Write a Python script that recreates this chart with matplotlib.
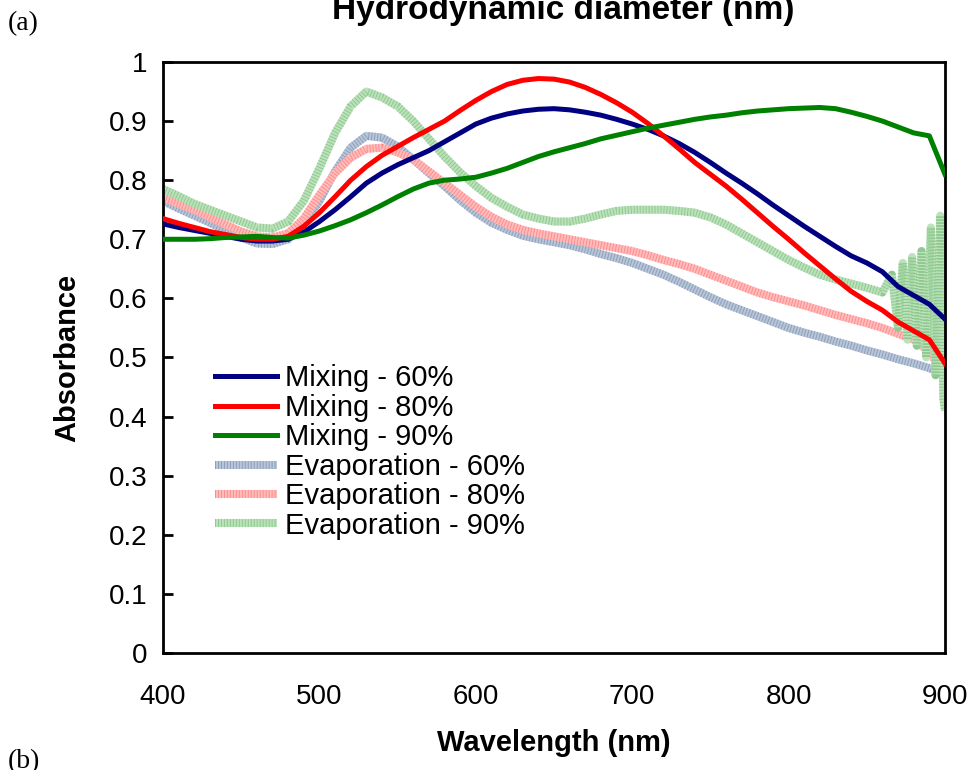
import matplotlib
matplotlib.use('Agg')
from matplotlib import pyplot as plt
from matplotlib.lines import Line2D
from matplotlib.legend_handler import HandlerTuple

plt.rcParams['font.family'] = 'Liberation Sans'

wl = list(range(400, 910, 10))

mix60 = [0.726, 0.720, 0.715, 0.710, 0.705, 0.700, 0.697, 0.697, 0.700, 0.712, 0.730, 0.750, 0.772,
         0.795, 0.812, 0.826, 0.838, 0.850, 0.865, 0.880, 0.895, 0.905, 0.912, 0.917, 0.920, 0.921,
         0.919, 0.915, 0.910, 0.903, 0.895, 0.886, 0.875, 0.862, 0.847, 0.830, 0.812, 0.795, 0.777,
         0.758, 0.740, 0.722, 0.705, 0.688, 0.672, 0.660, 0.645, 0.620, 0.605, 0.590, 0.565]
mix80 = [0.735, 0.727, 0.720, 0.713, 0.708, 0.703, 0.700, 0.700, 0.705, 0.722, 0.745, 0.772, 0.800,
         0.823, 0.842, 0.857, 0.872, 0.886, 0.900, 0.918, 0.935, 0.950, 0.962, 0.969, 0.972, 0.971,
         0.966, 0.957, 0.945, 0.931, 0.915, 0.896, 0.875, 0.853, 0.830, 0.810, 0.790, 0.768, 0.745,
         0.722, 0.700, 0.677, 0.655, 0.633, 0.612, 0.595, 0.580, 0.560, 0.545, 0.530, 0.490]
mix90 = [0.700, 0.700, 0.700, 0.701, 0.703, 0.704, 0.705, 0.703, 0.702, 0.707, 0.714, 0.723, 0.733,
         0.745, 0.758, 0.772, 0.785, 0.795, 0.800, 0.802, 0.805, 0.812, 0.820, 0.830, 0.840, 0.848,
         0.855, 0.862, 0.870, 0.876, 0.882, 0.888, 0.893, 0.898, 0.903, 0.907, 0.910, 0.914, 0.917,
         0.919, 0.921, 0.922, 0.923, 0.921, 0.915, 0.908, 0.900, 0.890, 0.880, 0.875, 0.810]

evap60 = [0.765, 0.752, 0.740, 0.728, 0.715, 0.703, 0.693, 0.692, 0.700, 0.725, 0.765, 0.815, 0.855,
          0.875, 0.872, 0.857, 0.835, 0.812, 0.790, 0.766, 0.745, 0.728, 0.716, 0.706, 0.700, 0.695,
          0.690, 0.683, 0.675, 0.668, 0.660, 0.650, 0.640, 0.628, 0.615, 0.602, 0.590, 0.580, 0.570,
          0.560, 0.550, 0.542, 0.535, 0.527, 0.520, 0.512, 0.505, 0.497, 0.490, 0.482, 0.470]
evap80 = [0.770, 0.760, 0.750, 0.737, 0.725, 0.713, 0.705, 0.703, 0.710, 0.735, 0.775, 0.812, 0.838,
          0.853, 0.855, 0.847, 0.835, 0.815, 0.795, 0.775, 0.755, 0.738, 0.725, 0.716, 0.710, 0.705,
          0.700, 0.695, 0.690, 0.685, 0.680, 0.673, 0.665, 0.658, 0.650, 0.640, 0.630, 0.620, 0.610,
          0.602, 0.595, 0.588, 0.580, 0.572, 0.565, 0.558, 0.550, 0.540, 0.530, 0.510, 0.470]
# evaporation 90% up to 860 nm, then its noisy tail
evap90 = [0.785, 0.773, 0.760, 0.750, 0.740, 0.730, 0.720, 0.718, 0.730, 0.765, 0.820, 0.880, 0.925,
          0.950, 0.940, 0.925, 0.900, 0.870, 0.840, 0.813, 0.790, 0.770, 0.755, 0.742, 0.735, 0.730,
          0.730, 0.735, 0.742, 0.748, 0.750, 0.750, 0.750, 0.748, 0.745, 0.737, 0.725, 0.710, 0.695,
          0.680, 0.665, 0.652, 0.640, 0.632, 0.625, 0.618, 0.610]
wl_tail = [866, 870, 873, 876, 879, 882, 885, 888, 891, 894, 897, 899, 900]
evap90_tail = [0.640, 0.550, 0.660, 0.530, 0.670, 0.520, 0.680, 0.500, 0.720, 0.470, 0.740, 0.430, 0.410]

fig = plt.figure(figsize=(9.74, 7.7), dpi=100)
ax = fig.add_axes([0.1674, 0.152, 0.8028, 0.7675])

ev_styles = [('#b9c6d9', '#8d9fba'), ('#ffbcbc', '#ff8c8c'), ('#bce2bc', '#8fc98f')]
ev_x = [wl, wl, wl[:len(evap90)] + wl_tail]
ev_y = [evap60, evap80, evap90 + evap90_tail]
ev_names = ['Evaporation - 60%', 'Evaporation - 80%', 'Evaporation - 90%']

ev_handles = []
for (light, dark), x, y in zip(ev_styles, ev_x, ev_y):
    ax.plot(x, y, color=light, lw=5.8, solid_capstyle='butt', zorder=2)
    ax.plot(x, y, color=dark, lw=5.8, dashes=(0.12, 0.25), zorder=2)
    ev_handles.append((Line2D([], [], color=light, lw=5.8, solid_capstyle='butt'),
                       Line2D([], [], color=dark, lw=5.8, dashes=(0.12, 0.25))))

m1, = ax.plot(wl, mix60, color='#000080', lw=3.6, zorder=3)
m2, = ax.plot(wl, mix80, color='#ff0000', lw=3.6, zorder=3)
m3, = ax.plot(wl, mix90, color='#008000', lw=3.6, zorder=3)

ax.set_xlim(400, 900)
ax.set_ylim(0, 1)
ax.set_xticks([400, 500, 600, 700, 800, 900])
ax.set_yticks([i / 10 for i in range(11)])
ax.set_yticklabels(['0', '0.1', '0.2', '0.3', '0.4', '0.5', '0.6', '0.7', '0.8', '0.9', '1'])
ax.tick_params(axis='y', direction='in', length=7, width=2, labelsize=20, pad=11)
ax.tick_params(axis='x', length=0, labelsize=20, pad=22)
for s in ax.spines.values():
    s.set_linewidth(2)

ax.set_xlabel('Wavelength (nm)', fontsize=21, fontweight='bold', labelpad=14)
ax.set_ylabel('Absorbance', fontsize=21, fontweight='bold', labelpad=20)

ax.legend([m1, m2, m3] + ev_handles,
          ['Mixing - 60%', 'Mixing - 80%', 'Mixing - 90%'] + ev_names,
          handler_map={tuple: HandlerTuple(ndivide=1)},
          loc='upper left', bbox_to_anchor=(0.052, 0.508), frameon=False,
          fontsize=21, handlelength=2.1, handletextpad=0.3, labelspacing=0.05,
          borderaxespad=0)

fig.text(0.578, 1 - 19 / 770, 'Hydrodynamic diameter (nm)', ha='center', va='baseline',
         fontsize=24, fontweight='bold')
fig.text(0.008, 1 - 30 / 770, '(a)', fontsize=20, family='Liberation Serif')
fig.text(0.008, 1 - 768 / 770, '(b)', fontsize=20, family='Liberation Serif')

plt.savefig('out.png')
